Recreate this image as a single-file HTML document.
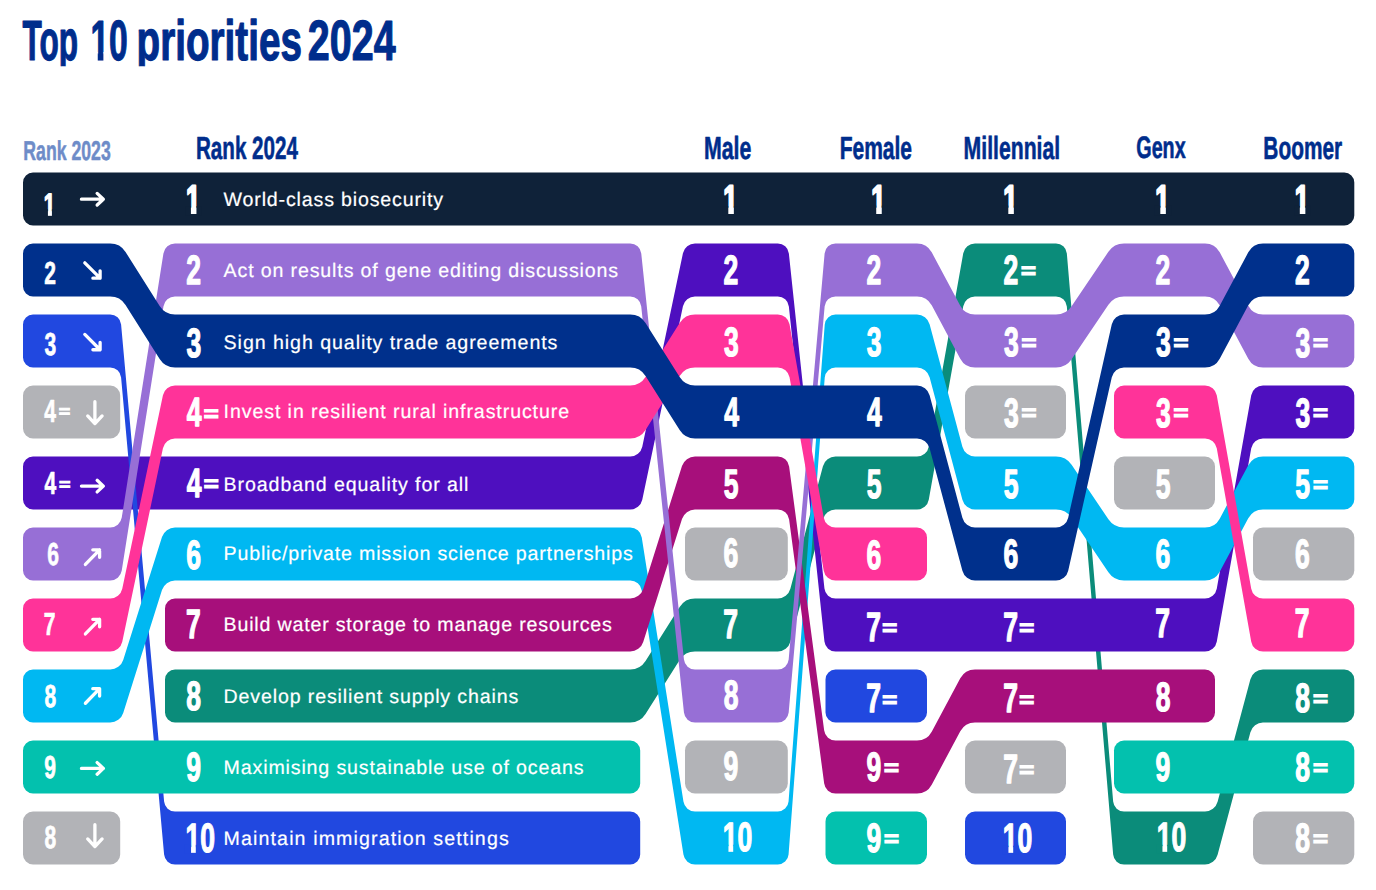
<!DOCTYPE html>
<html><head><meta charset="utf-8"><title>Top 10 priorities 2024</title>
<style>
html,body{margin:0;padding:0;background:#fff;width:1376px;height:890px;overflow:hidden}
svg{display:block}
text{text-rendering:geometricPrecision}
</style></head><body>
<svg width="1376" height="890" viewBox="0 0 1376 890">
<rect width="1376" height="890" fill="#fff"/>
<clipPath id="tc"><rect x="0" y="0" width="600" height="66.2"/></clipPath><g clip-path="url(#tc)">
<text transform="translate(22.58 60.3) scale(0.5573 1)" style="font-family:'Liberation Sans',sans-serif;font-weight:700;font-size:56.67px" fill="#002d8c" stroke="#002d8c" stroke-width="1.2" stroke-linejoin="round">Top</text>
<text transform="translate(90.41 60.3) scale(0.5935 1)" style="font-family:'Liberation Sans',sans-serif;font-weight:700;font-size:56.67px" fill="#002d8c" stroke="#002d8c" stroke-width="1.2" stroke-linejoin="round">10</text>
<rect x="89.91" y="52.12" width="7.84" height="9.88" fill="#fff"/>
<rect x="103.39" y="52.12" width="6.08" height="9.88" fill="#fff"/>
<text transform="translate(136.59 60.3) scale(0.6818 1)" style="font-family:'Liberation Sans',sans-serif;font-weight:700;font-size:56.67px" fill="#002d8c" stroke="#002d8c" stroke-width="1.2" stroke-linejoin="round">priorities</text>
<text transform="translate(307.82 60.3) scale(0.6962 1)" style="font-family:'Liberation Sans',sans-serif;font-weight:700;font-size:56.67px" fill="#002d8c" stroke="#002d8c" stroke-width="1.2" stroke-linejoin="round">2024</text>
</g>
<text transform="translate(23.3 159.85) scale(0.6484 1)" style="font-family:'Liberation Sans',sans-serif;font-weight:700;font-size:27.25px" fill="#6e8cc8" stroke="#6e8cc8" stroke-width="0.5" stroke-linejoin="round">Rank 2023</text>
<text transform="translate(195.96 158.7) scale(0.6436 1)" style="font-family:'Liberation Sans',sans-serif;font-weight:700;font-size:32.03px" fill="#002d8c" stroke="#002d8c" stroke-width="0.6" stroke-linejoin="round">Rank 2024</text>
<text transform="translate(703.91 158.7) scale(0.6657 1)" style="font-family:'Liberation Sans',sans-serif;font-weight:700;font-size:32.03px" fill="#002d8c" stroke="#002d8c" stroke-width="0.6" stroke-linejoin="round">Male</text>
<text transform="translate(839.63 158.7) scale(0.6562 1)" style="font-family:'Liberation Sans',sans-serif;font-weight:700;font-size:32.03px" fill="#002d8c" stroke="#002d8c" stroke-width="0.6" stroke-linejoin="round">Female</text>
<text transform="translate(963.62 158.7) scale(0.6619 1)" style="font-family:'Liberation Sans',sans-serif;font-weight:700;font-size:32.03px" fill="#002d8c" stroke="#002d8c" stroke-width="0.6" stroke-linejoin="round">Millennial</text>
<text transform="translate(1136.31 158.39) scale(0.6334 1)" style="font-family:'Liberation Sans',sans-serif;font-weight:700;font-size:31.13px" fill="#002d8c" stroke="#002d8c" stroke-width="0.6" stroke-linejoin="round">Genx</text>
<text transform="translate(1263.34 158.7) scale(0.6514 1)" style="font-family:'Liberation Sans',sans-serif;font-weight:700;font-size:32.03px" fill="#002d8c" stroke="#002d8c" stroke-width="0.6" stroke-linejoin="round">Boomer</text>
<path fill="#0b8c7a" d="M175 669.5L630.2 669.5A18.13 18.13 0 0 0 645.54 661.04L679.66 606.96A18.13 18.13 0 0 1 695 598.5L777.8 598.5A13 13 0 0 0 790.37 588.83L822.93 466.17A13 13 0 0 1 835.5 456.5L917 456.5A11.94 11.94 0 0 0 928.76 446.66L963.24 253.34A11.94 11.94 0 0 1 975 243.5L1056 243.5A10.88 10.88 0 0 1 1066.84 253.46L1113.16 801.54A10.88 10.88 0 0 0 1124 811.5L1205 811.5A13.03 13.03 0 0 0 1217.59 801.84L1250.41 679.16A13.03 13.03 0 0 1 1263 669.5L1344.3 669.5A10 10 0 0 1 1354.3 679.5L1354.3 712.5A10 10 0 0 1 1344.3 722.5L1263 722.5A13.03 13.03 0 0 0 1250.41 732.16L1217.59 854.84A13.03 13.03 0 0 1 1205 864.5L1124 864.5A10.88 10.88 0 0 1 1113.16 854.54L1066.84 306.46A10.88 10.88 0 0 0 1056 296.5L975 296.5A11.94 11.94 0 0 0 963.24 306.34L928.76 499.66A11.94 11.94 0 0 1 917 509.5L835.5 509.5A13 13 0 0 0 822.93 519.17L790.37 641.83A13 13 0 0 1 777.8 651.5L695 651.5A18.13 18.13 0 0 0 679.66 659.96L645.54 714.04A18.13 18.13 0 0 1 630.2 722.5L175 722.5A10 10 0 0 1 165 712.5L165 679.5A10 10 0 0 1 175 669.5Z"/>
<path fill="#4e0fbf" d="M33 456.5L630.2 456.5A12.32 12.32 0 0 0 642.26 446.71L682.94 253.29A12.32 12.32 0 0 1 695 243.5L777.8 243.5A11.12 11.12 0 0 1 788.86 253.44L824.44 588.56A11.12 11.12 0 0 0 835.5 598.5L1205 598.5A11.94 11.94 0 0 0 1216.76 588.66L1251.24 395.34A11.94 11.94 0 0 1 1263 385.5L1344.3 385.5A10 10 0 0 1 1354.3 395.5L1354.3 428.5A10 10 0 0 1 1344.3 438.5L1263 438.5A11.94 11.94 0 0 0 1251.24 448.34L1216.76 641.66A11.94 11.94 0 0 1 1205 651.5L835.5 651.5A11.12 11.12 0 0 1 824.44 641.56L788.86 306.44A11.12 11.12 0 0 0 777.8 296.5L695 296.5A12.32 12.32 0 0 0 682.94 306.29L642.26 499.71A12.32 12.32 0 0 1 630.2 509.5L33 509.5A10 10 0 0 1 23 499.5L23 466.5A10 10 0 0 1 33 456.5Z"/>
<path fill="#2148e0" d="M33 314.5L110.2 314.5A10.94 10.94 0 0 1 121.1 324.46L164.1 801.54A10.94 10.94 0 0 0 175 811.5L630.2 811.5A10 10 0 0 1 640.2 821.5L640.2 854.5A10 10 0 0 1 630.2 864.5L175 864.5A10.94 10.94 0 0 1 164.1 854.54L121.1 377.46A10.94 10.94 0 0 0 110.2 367.5L33 367.5A10 10 0 0 1 23 357.5L23 324.5A10 10 0 0 1 33 314.5Z"/>
<path fill="#2148e0" d="M835.5 669.5L917 669.5A10 10 0 0 1 927 679.5L927 712.5A10 10 0 0 1 917 722.5L835.5 722.5A10 10 0 0 1 825.5 712.5L825.5 679.5A10 10 0 0 1 835.5 669.5Z"/>
<path fill="#2148e0" d="M975 811.5L1056 811.5A10 10 0 0 1 1066 821.5L1066 854.5A10 10 0 0 1 1056 864.5L975 864.5A10 10 0 0 1 965 854.5L965 821.5A10 10 0 0 1 975 811.5Z"/>
<path fill="#00b8f2" d="M33 669.5L110.2 669.5A13.64 13.64 0 0 0 123.21 659.96L161.99 537.04A13.64 13.64 0 0 1 175 527.5L630.2 527.5A11.7 11.7 0 0 1 641.76 537.38L683.44 801.62A11.7 11.7 0 0 0 695 811.5L777.8 811.5A10.79 10.79 0 0 0 788.56 801.53L824.74 324.47A10.79 10.79 0 0 1 835.5 314.5L917 314.5A13.03 13.03 0 0 1 929.59 324.16L962.41 446.84A13.03 13.03 0 0 0 975 456.5L1056 456.5A18.83 18.83 0 0 1 1071.6 464.78L1108.4 519.22A18.83 18.83 0 0 0 1124 527.5L1205 527.5A16.69 16.69 0 0 0 1219.72 518.68L1248.28 465.32A16.69 16.69 0 0 1 1263 456.5L1344.3 456.5A10 10 0 0 1 1354.3 466.5L1354.3 499.5A10 10 0 0 1 1344.3 509.5L1263 509.5A16.69 16.69 0 0 0 1248.28 518.32L1219.72 571.68A16.69 16.69 0 0 1 1205 580.5L1124 580.5A18.83 18.83 0 0 1 1108.4 572.22L1071.6 517.78A18.83 18.83 0 0 0 1056 509.5L975 509.5A13.03 13.03 0 0 1 962.41 499.84L929.59 377.16A13.03 13.03 0 0 0 917 367.5L835.5 367.5A10.79 10.79 0 0 0 824.74 377.47L788.56 854.53A10.79 10.79 0 0 1 777.8 864.5L695 864.5A11.7 11.7 0 0 1 683.44 854.62L641.76 590.38A11.7 11.7 0 0 0 630.2 580.5L175 580.5A13.64 13.64 0 0 0 161.99 590.04L123.21 712.96A13.64 13.64 0 0 1 110.2 722.5L33 722.5A10 10 0 0 1 23 712.5L23 679.5A10 10 0 0 1 33 669.5Z"/>
<path fill="#03c1ae" d="M33 740.5L630.2 740.5A10 10 0 0 1 640.2 750.5L640.2 783.5A10 10 0 0 1 630.2 793.5L33 793.5A10 10 0 0 1 23 783.5L23 750.5A10 10 0 0 1 33 740.5Z"/>
<path fill="#03c1ae" d="M835.5 811.5L917 811.5A10 10 0 0 1 927 821.5L927 854.5A10 10 0 0 1 917 864.5L835.5 864.5A10 10 0 0 1 825.5 854.5L825.5 821.5A10 10 0 0 1 835.5 811.5Z"/>
<path fill="#03c1ae" d="M1124 740.5L1344.3 740.5A10 10 0 0 1 1354.3 750.5L1354.3 783.5A10 10 0 0 1 1344.3 793.5L1124 793.5A10 10 0 0 1 1114 783.5L1114 750.5A10 10 0 0 1 1124 740.5Z"/>
<path fill="#a70f7b" d="M175 598.5L630.2 598.5A13.64 13.64 0 0 0 643.21 588.96L681.99 466.04A13.64 13.64 0 0 1 695 456.5L777.8 456.5A11.42 11.42 0 0 1 789.12 466.41L824.18 730.59A11.42 11.42 0 0 0 835.5 740.5L917 740.5A16.69 16.69 0 0 0 931.72 731.68L960.28 678.32A16.69 16.69 0 0 1 975 669.5L1205 669.5A10 10 0 0 1 1215 679.5L1215 712.5A10 10 0 0 1 1205 722.5L975 722.5A16.69 16.69 0 0 0 960.28 731.32L931.72 784.68A16.69 16.69 0 0 1 917 793.5L835.5 793.5A11.42 11.42 0 0 1 824.18 783.59L789.12 519.41A11.42 11.42 0 0 0 777.8 509.5L695 509.5A13.64 13.64 0 0 0 681.99 519.04L643.21 641.96A13.64 13.64 0 0 1 630.2 651.5L175 651.5A10 10 0 0 1 165 641.5L165 608.5A10 10 0 0 1 175 598.5Z"/>
<path fill="#976fd6" d="M33 527.5L110.2 527.5A11.7 11.7 0 0 0 121.76 517.62L163.44 253.38A11.7 11.7 0 0 1 175 243.5L630.2 243.5A11.11 11.11 0 0 1 641.25 253.45L683.95 659.55A11.11 11.11 0 0 0 695 669.5L777.8 669.5A10.92 10.92 0 0 0 788.68 659.54L824.62 253.46A10.92 10.92 0 0 1 835.5 243.5L917 243.5A16.69 16.69 0 0 1 931.72 252.32L960.28 305.68A16.69 16.69 0 0 0 975 314.5L1056 314.5A18.83 18.83 0 0 0 1071.6 306.22L1108.4 251.78A18.83 18.83 0 0 1 1124 243.5L1205 243.5A16.69 16.69 0 0 1 1219.72 252.32L1248.28 305.68A16.69 16.69 0 0 0 1263 314.5L1344.3 314.5A10 10 0 0 1 1354.3 324.5L1354.3 357.5A10 10 0 0 1 1344.3 367.5L1263 367.5A16.69 16.69 0 0 1 1248.28 358.68L1219.72 305.32A16.69 16.69 0 0 0 1205 296.5L1124 296.5A18.83 18.83 0 0 0 1108.4 304.78L1071.6 359.22A18.83 18.83 0 0 1 1056 367.5L975 367.5A16.69 16.69 0 0 1 960.28 358.68L931.72 305.32A16.69 16.69 0 0 0 917 296.5L835.5 296.5A10.92 10.92 0 0 0 824.62 306.46L788.68 712.54A10.92 10.92 0 0 1 777.8 722.5L695 722.5A11.11 11.11 0 0 1 683.95 712.55L641.25 306.45A11.11 11.11 0 0 0 630.2 296.5L175 296.5A11.7 11.7 0 0 0 163.44 306.38L121.76 570.62A11.7 11.7 0 0 1 110.2 580.5L33 580.5A10 10 0 0 1 23 570.5L23 537.5A10 10 0 0 1 33 527.5Z"/>
<path fill="#ff3399" d="M33 598.5L110.2 598.5A12.32 12.32 0 0 0 122.26 588.71L162.94 395.29A12.32 12.32 0 0 1 175 385.5L630.2 385.5A18.13 18.13 0 0 0 645.54 377.04L679.66 322.96A18.13 18.13 0 0 1 695 314.5L777.8 314.5A11.93 11.93 0 0 1 789.54 324.35L823.76 517.65A11.93 11.93 0 0 0 835.5 527.5L917 527.5A10 10 0 0 1 927 537.5L927 570.5A10 10 0 0 1 917 580.5L835.5 580.5A11.93 11.93 0 0 1 823.76 570.65L789.54 377.35A11.93 11.93 0 0 0 777.8 367.5L695 367.5A18.13 18.13 0 0 0 679.66 375.96L645.54 430.04A18.13 18.13 0 0 1 630.2 438.5L175 438.5A12.32 12.32 0 0 0 162.94 448.29L122.26 641.71A12.32 12.32 0 0 1 110.2 651.5L33 651.5A10 10 0 0 1 23 641.5L23 608.5A10 10 0 0 1 33 598.5Z"/>
<path fill="#ff3399" d="M1124 385.5L1205 385.5A11.94 11.94 0 0 1 1216.76 395.34L1251.24 588.66A11.94 11.94 0 0 0 1263 598.5L1344.3 598.5A10 10 0 0 1 1354.3 608.5L1354.3 641.5A10 10 0 0 1 1344.3 651.5L1263 651.5A11.94 11.94 0 0 1 1251.24 641.66L1216.76 448.34A11.94 11.94 0 0 0 1205 438.5L1124 438.5A10 10 0 0 1 1114 428.5L1114 395.5A10 10 0 0 1 1124 385.5Z"/>
<path fill="#00308c" d="M33 243.5L110.2 243.5A18.13 18.13 0 0 1 125.54 251.96L159.66 306.04A18.13 18.13 0 0 0 175 314.5L630.2 314.5A18.13 18.13 0 0 1 645.54 322.96L679.66 377.04A18.13 18.13 0 0 0 695 385.5L917 385.5A13.03 13.03 0 0 1 929.59 395.16L962.41 517.84A13.03 13.03 0 0 0 975 527.5L1056 527.5A12.5 12.5 0 0 0 1068.2 517.74L1111.8 324.26A12.5 12.5 0 0 1 1124 314.5L1205 314.5A16.69 16.69 0 0 0 1219.72 305.68L1248.28 252.32A16.69 16.69 0 0 1 1263 243.5L1344.3 243.5A10 10 0 0 1 1354.3 253.5L1354.3 286.5A10 10 0 0 1 1344.3 296.5L1263 296.5A16.69 16.69 0 0 0 1248.28 305.32L1219.72 358.68A16.69 16.69 0 0 1 1205 367.5L1124 367.5A12.5 12.5 0 0 0 1111.8 377.26L1068.2 570.74A12.5 12.5 0 0 1 1056 580.5L975 580.5A13.03 13.03 0 0 1 962.41 570.84L929.59 448.16A13.03 13.03 0 0 0 917 438.5L695 438.5A18.13 18.13 0 0 1 679.66 430.04L645.54 375.96A18.13 18.13 0 0 0 630.2 367.5L175 367.5A18.13 18.13 0 0 1 159.66 359.04L125.54 304.96A18.13 18.13 0 0 0 110.2 296.5L33 296.5A10 10 0 0 1 23 286.5L23 253.5A10 10 0 0 1 33 243.5Z"/>
<path fill="#0f2239" d="M33 172.5L1344.3 172.5A10 10 0 0 1 1354.3 182.5L1354.3 215.5A10 10 0 0 1 1344.3 225.5L33 225.5A10 10 0 0 1 23 215.5L23 182.5A10 10 0 0 1 33 172.5Z"/>
<path fill="#b2b3b7" d="M33 385.5L110.2 385.5A10 10 0 0 1 120.2 395.5L120.2 428.5A10 10 0 0 1 110.2 438.5L33 438.5A10 10 0 0 1 23 428.5L23 395.5A10 10 0 0 1 33 385.5Z"/>
<path fill="#b2b3b7" d="M33 811.5L110.2 811.5A10 10 0 0 1 120.2 821.5L120.2 854.5A10 10 0 0 1 110.2 864.5L33 864.5A10 10 0 0 1 23 854.5L23 821.5A10 10 0 0 1 33 811.5Z"/>
<path fill="#b2b3b7" d="M695 527.5L777.8 527.5A10 10 0 0 1 787.8 537.5L787.8 570.5A10 10 0 0 1 777.8 580.5L695 580.5A10 10 0 0 1 685 570.5L685 537.5A10 10 0 0 1 695 527.5Z"/>
<path fill="#b2b3b7" d="M695 740.5L777.8 740.5A10 10 0 0 1 787.8 750.5L787.8 783.5A10 10 0 0 1 777.8 793.5L695 793.5A10 10 0 0 1 685 783.5L685 750.5A10 10 0 0 1 695 740.5Z"/>
<path fill="#b2b3b7" d="M975 385.5L1056 385.5A10 10 0 0 1 1066 395.5L1066 428.5A10 10 0 0 1 1056 438.5L975 438.5A10 10 0 0 1 965 428.5L965 395.5A10 10 0 0 1 975 385.5Z"/>
<path fill="#b2b3b7" d="M975 740.5L1056 740.5A10 10 0 0 1 1066 750.5L1066 783.5A10 10 0 0 1 1056 793.5L975 793.5A10 10 0 0 1 965 783.5L965 750.5A10 10 0 0 1 975 740.5Z"/>
<path fill="#b2b3b7" d="M1124 456.5L1205 456.5A10 10 0 0 1 1215 466.5L1215 499.5A10 10 0 0 1 1205 509.5L1124 509.5A10 10 0 0 1 1114 499.5L1114 466.5A10 10 0 0 1 1124 456.5Z"/>
<path fill="#b2b3b7" d="M1263 527.5L1344.3 527.5A10 10 0 0 1 1354.3 537.5L1354.3 570.5A10 10 0 0 1 1344.3 580.5L1263 580.5A10 10 0 0 1 1253 570.5L1253 537.5A10 10 0 0 1 1263 527.5Z"/>
<path fill="#b2b3b7" d="M1263 811.5L1344.3 811.5A10 10 0 0 1 1354.3 821.5L1354.3 854.5A10 10 0 0 1 1344.3 864.5L1263 864.5A10 10 0 0 1 1253 854.5L1253 821.5A10 10 0 0 1 1263 811.5Z"/>
<text transform="translate(43.77 214.88) scale(0.6600 1)" style="font-family:'Liberation Sans',sans-serif;font-weight:700;font-size:30.87px" fill="#fff" stroke="#fff" stroke-width="1.39" stroke-linejoin="round">1</text>
<rect x="43.27" y="209.23" width="4.65" height="7.44" fill="#0f2239"/>
<rect x="51.92" y="209.23" width="4.5" height="7.44" fill="#0f2239"/>
<path d="M81.45 199.2H103.35 M97.15 193.4L103.35 199.2L97.15 205" fill="none" stroke="#fff" stroke-width="3.3" stroke-linecap="round" stroke-linejoin="round"/>
<text transform="translate(44.21 283.65) scale(0.6600 1)" style="font-family:'Liberation Sans',sans-serif;font-weight:700;font-size:31.86px" fill="#fff" stroke="#fff" stroke-width="0.7" stroke-linejoin="round">2</text>
<path d="M84.8 262.85L100.1 278.15 M92.9 278.15H100.1 V270.85" fill="none" stroke="#fff" stroke-width="3.3" stroke-linecap="round" stroke-linejoin="round"/>
<text transform="translate(44.52 354.85) scale(0.6600 1)" style="font-family:'Liberation Sans',sans-serif;font-weight:700;font-size:31.86px" fill="#fff" stroke="#fff" stroke-width="0.7" stroke-linejoin="round">3</text>
<path d="M84.8 334.45L100.1 349.75 M92.9 349.75H100.1 V342.45" fill="none" stroke="#fff" stroke-width="3.3" stroke-linecap="round" stroke-linejoin="round"/>
<text transform="translate(44.33 421.62) scale(0.6600 1)" style="font-family:'Liberation Sans',sans-serif;font-weight:700;font-size:31.86px" fill="#fff" stroke="#fff" stroke-width="0.7" stroke-linejoin="round">4</text>
<text transform="translate(58.84 417.09) scale(1.1605 1)" style="font-family:'Liberation Sans',sans-serif;font-weight:700;font-size:16.88px" fill="#fff" stroke="#fff" stroke-width="1">=</text>
<path d="M94.9 401.75V423.55 M87.7 415.95L94.9 423.55L102.1 415.95" fill="none" stroke="#fff" stroke-width="3.3" stroke-linecap="round" stroke-linejoin="round"/>
<text transform="translate(44.43 494.42) scale(0.6600 1)" style="font-family:'Liberation Sans',sans-serif;font-weight:700;font-size:31.86px" fill="#fff" stroke="#fff" stroke-width="0.7" stroke-linejoin="round">4</text>
<text transform="translate(58.94 489.89) scale(1.1605 1)" style="font-family:'Liberation Sans',sans-serif;font-weight:700;font-size:16.88px" fill="#fff" stroke="#fff" stroke-width="1">=</text>
<path d="M81.45 486.1H103.35 M97.15 480.3L103.35 486.1L97.15 491.9" fill="none" stroke="#fff" stroke-width="3.3" stroke-linecap="round" stroke-linejoin="round"/>
<text transform="translate(47.31 564.55) scale(0.6600 1)" style="font-family:'Liberation Sans',sans-serif;font-weight:700;font-size:31.86px" fill="#fff" stroke="#fff" stroke-width="0.7" stroke-linejoin="round">6</text>
<path d="M85.4 564.45L99.6 549.85 M92.8 549.85H99.6 V557.25" fill="none" stroke="#fff" stroke-width="3.3" stroke-linecap="round" stroke-linejoin="round"/>
<text transform="translate(43.8 634.72) scale(0.6600 1)" style="font-family:'Liberation Sans',sans-serif;font-weight:700;font-size:31.86px" fill="#fff" stroke="#fff" stroke-width="0.7" stroke-linejoin="round">7</text>
<path d="M85.4 633.95L99.6 619.35 M92.8 619.35H99.6 V626.75" fill="none" stroke="#fff" stroke-width="3.3" stroke-linecap="round" stroke-linejoin="round"/>
<text transform="translate(44.52 706.85) scale(0.6600 1)" style="font-family:'Liberation Sans',sans-serif;font-weight:700;font-size:31.86px" fill="#fff" stroke="#fff" stroke-width="0.7" stroke-linejoin="round">8</text>
<path d="M85.4 703.25L99.6 688.65 M92.8 688.65H99.6 V696.05" fill="none" stroke="#fff" stroke-width="3.3" stroke-linecap="round" stroke-linejoin="round"/>
<text transform="translate(44.31 777.85) scale(0.6600 1)" style="font-family:'Liberation Sans',sans-serif;font-weight:700;font-size:31.86px" fill="#fff" stroke="#fff" stroke-width="0.7" stroke-linejoin="round">9</text>
<path d="M81.45 768.4H103.35 M97.15 762.6L103.35 768.4L97.15 774.2" fill="none" stroke="#fff" stroke-width="3.3" stroke-linecap="round" stroke-linejoin="round"/>
<text transform="translate(44.52 847.95) scale(0.6600 1)" style="font-family:'Liberation Sans',sans-serif;font-weight:700;font-size:31.86px" fill="#fff" stroke="#fff" stroke-width="0.7" stroke-linejoin="round">8</text>
<path d="M94.9 824.75V846.55 M87.7 838.95L94.9 846.55L102.1 838.95" fill="none" stroke="#fff" stroke-width="3.3" stroke-linecap="round" stroke-linejoin="round"/>
<text transform="translate(185.93 213.17) scale(0.6460 1)" style="font-family:'Liberation Sans',sans-serif;font-weight:700;font-size:39.71px" fill="#fff" stroke="#fff" stroke-width="2.2" stroke-linejoin="round">1</text>
<rect x="185.43" y="206.22" width="5.48" height="9.15" fill="#0f2239"/>
<rect x="196.45" y="206.22" width="5.33" height="9.15" fill="#0f2239"/>
<text transform="translate(186.22 284.45) scale(0.6460 1)" style="font-family:'Liberation Sans',sans-serif;font-weight:700;font-size:41px" fill="#fff" stroke="#fff" stroke-width="1.3" stroke-linejoin="round">2</text>
<text transform="translate(186.49 356.55) scale(0.6460 1)" style="font-family:'Liberation Sans',sans-serif;font-weight:700;font-size:41px" fill="#fff" stroke="#fff" stroke-width="1.3" stroke-linejoin="round">3</text>
<text transform="translate(186.75 426.32) scale(0.6460 1)" style="font-family:'Liberation Sans',sans-serif;font-weight:700;font-size:41px" fill="#fff" stroke="#fff" stroke-width="1.3" stroke-linejoin="round">4</text>
<text transform="translate(203.87 420.6) scale(1.1605 1)" style="font-family:'Liberation Sans',sans-serif;font-weight:700;font-size:22.02px" fill="#fff" stroke="#fff" stroke-width="1.3">=</text>
<text transform="translate(186.75 496.72) scale(0.6460 1)" style="font-family:'Liberation Sans',sans-serif;font-weight:700;font-size:41px" fill="#fff" stroke="#fff" stroke-width="1.3" stroke-linejoin="round">4</text>
<text transform="translate(203.87 491) scale(1.1605 1)" style="font-family:'Liberation Sans',sans-serif;font-weight:700;font-size:22.02px" fill="#fff" stroke="#fff" stroke-width="1.3">=</text>
<text transform="translate(186.22 568.55) scale(0.6460 1)" style="font-family:'Liberation Sans',sans-serif;font-weight:700;font-size:41px" fill="#fff" stroke="#fff" stroke-width="1.3" stroke-linejoin="round">6</text>
<text transform="translate(185.96 638.32) scale(0.6460 1)" style="font-family:'Liberation Sans',sans-serif;font-weight:700;font-size:41px" fill="#fff" stroke="#fff" stroke-width="1.3" stroke-linejoin="round">7</text>
<text transform="translate(186.36 709.55) scale(0.6460 1)" style="font-family:'Liberation Sans',sans-serif;font-weight:700;font-size:41px" fill="#fff" stroke="#fff" stroke-width="1.3" stroke-linejoin="round">8</text>
<text transform="translate(186.22 781.05) scale(0.6460 1)" style="font-family:'Liberation Sans',sans-serif;font-weight:700;font-size:41px" fill="#fff" stroke="#fff" stroke-width="1.3" stroke-linejoin="round">9</text>
<text transform="translate(185.43 851.52) scale(0.6460 1)" style="font-family:'Liberation Sans',sans-serif;font-weight:700;font-size:41px" fill="#fff" stroke="#fff" stroke-width="1.3" stroke-linejoin="round">10</text>
<rect x="184.93" y="844.89" width="6.12" height="8.38" fill="#2148e0"/>
<rect x="195.8" y="844.89" width="5.46" height="8.38" fill="#2148e0"/>
<text transform="translate(723.33 213.17) scale(0.6460 1)" style="font-family:'Liberation Sans',sans-serif;font-weight:700;font-size:39.71px" fill="#fff" stroke="#fff" stroke-width="2.2" stroke-linejoin="round">1</text>
<rect x="722.83" y="206.22" width="5.48" height="9.15" fill="#0f2239"/>
<rect x="733.85" y="206.22" width="5.33" height="9.15" fill="#0f2239"/>
<text transform="translate(723.62 284.35) scale(0.6460 1)" style="font-family:'Liberation Sans',sans-serif;font-weight:700;font-size:41px" fill="#fff" stroke="#fff" stroke-width="1.3" stroke-linejoin="round">2</text>
<text transform="translate(723.89 356.45) scale(0.6460 1)" style="font-family:'Liberation Sans',sans-serif;font-weight:700;font-size:41px" fill="#fff" stroke="#fff" stroke-width="1.3" stroke-linejoin="round">3</text>
<text transform="translate(724.15 426.12) scale(0.6460 1)" style="font-family:'Liberation Sans',sans-serif;font-weight:700;font-size:41px" fill="#fff" stroke="#fff" stroke-width="1.3" stroke-linejoin="round">4</text>
<text transform="translate(723.76 497.82) scale(0.6460 1)" style="font-family:'Liberation Sans',sans-serif;font-weight:700;font-size:41px" fill="#fff" stroke="#fff" stroke-width="1.3" stroke-linejoin="round">5</text>
<text transform="translate(723.62 567.45) scale(0.6460 1)" style="font-family:'Liberation Sans',sans-serif;font-weight:700;font-size:41px" fill="#fff" stroke="#fff" stroke-width="1.3" stroke-linejoin="round">6</text>
<text transform="translate(723.36 637.52) scale(0.6460 1)" style="font-family:'Liberation Sans',sans-serif;font-weight:700;font-size:41px" fill="#fff" stroke="#fff" stroke-width="1.3" stroke-linejoin="round">7</text>
<text transform="translate(723.76 709.45) scale(0.6460 1)" style="font-family:'Liberation Sans',sans-serif;font-weight:700;font-size:41px" fill="#fff" stroke="#fff" stroke-width="1.3" stroke-linejoin="round">8</text>
<text transform="translate(723.62 780.45) scale(0.6460 1)" style="font-family:'Liberation Sans',sans-serif;font-weight:700;font-size:41px" fill="#fff" stroke="#fff" stroke-width="1.3" stroke-linejoin="round">9</text>
<text transform="translate(722.83 851.32) scale(0.6460 1)" style="font-family:'Liberation Sans',sans-serif;font-weight:700;font-size:41px" fill="#fff" stroke="#fff" stroke-width="1.3" stroke-linejoin="round">10</text>
<rect x="722.33" y="844.69" width="6.12" height="8.38" fill="#00b8f2"/>
<rect x="733.2" y="844.69" width="5.46" height="8.38" fill="#00b8f2"/>
<text transform="translate(871.23 212.57) scale(0.6460 1)" style="font-family:'Liberation Sans',sans-serif;font-weight:700;font-size:39.71px" fill="#fff" stroke="#fff" stroke-width="2.2" stroke-linejoin="round">1</text>
<rect x="870.73" y="205.62" width="5.48" height="9.15" fill="#0f2239"/>
<rect x="881.75" y="205.62" width="5.33" height="9.15" fill="#0f2239"/>
<text transform="translate(866.52 284.35) scale(0.6460 1)" style="font-family:'Liberation Sans',sans-serif;font-weight:700;font-size:41px" fill="#fff" stroke="#fff" stroke-width="1.3" stroke-linejoin="round">2</text>
<text transform="translate(866.79 356.45) scale(0.6460 1)" style="font-family:'Liberation Sans',sans-serif;font-weight:700;font-size:41px" fill="#fff" stroke="#fff" stroke-width="1.3" stroke-linejoin="round">3</text>
<text transform="translate(867.05 425.92) scale(0.6460 1)" style="font-family:'Liberation Sans',sans-serif;font-weight:700;font-size:41px" fill="#fff" stroke="#fff" stroke-width="1.3" stroke-linejoin="round">4</text>
<text transform="translate(866.66 498.32) scale(0.6460 1)" style="font-family:'Liberation Sans',sans-serif;font-weight:700;font-size:41px" fill="#fff" stroke="#fff" stroke-width="1.3" stroke-linejoin="round">5</text>
<text transform="translate(866.52 568.85) scale(0.6460 1)" style="font-family:'Liberation Sans',sans-serif;font-weight:700;font-size:41px" fill="#fff" stroke="#fff" stroke-width="1.3" stroke-linejoin="round">6</text>
<text transform="translate(866.26 640.52) scale(0.6460 1)" style="font-family:'Liberation Sans',sans-serif;font-weight:700;font-size:41px" fill="#fff" stroke="#fff" stroke-width="1.3" stroke-linejoin="round">7</text>
<text transform="translate(882.22 634.8) scale(1.1605 1)" style="font-family:'Liberation Sans',sans-serif;font-weight:700;font-size:22.02px" fill="#fff" stroke="#fff" stroke-width="1.3">=</text>
<text transform="translate(866.26 712.42) scale(0.6460 1)" style="font-family:'Liberation Sans',sans-serif;font-weight:700;font-size:41px" fill="#fff" stroke="#fff" stroke-width="1.3" stroke-linejoin="round">7</text>
<text transform="translate(882.22 706.7) scale(1.1605 1)" style="font-family:'Liberation Sans',sans-serif;font-weight:700;font-size:22.02px" fill="#fff" stroke="#fff" stroke-width="1.3">=</text>
<text transform="translate(866.52 780.75) scale(0.6460 1)" style="font-family:'Liberation Sans',sans-serif;font-weight:700;font-size:41px" fill="#fff" stroke="#fff" stroke-width="1.3" stroke-linejoin="round">9</text>
<text transform="translate(884.05 774.6) scale(1.1605 1)" style="font-family:'Liberation Sans',sans-serif;font-weight:700;font-size:22.02px" fill="#fff" stroke="#fff" stroke-width="1.3">=</text>
<text transform="translate(866.52 851.85) scale(0.6460 1)" style="font-family:'Liberation Sans',sans-serif;font-weight:700;font-size:41px" fill="#fff" stroke="#fff" stroke-width="1.3" stroke-linejoin="round">9</text>
<text transform="translate(884.05 845.7) scale(1.1605 1)" style="font-family:'Liberation Sans',sans-serif;font-weight:700;font-size:22.02px" fill="#fff" stroke="#fff" stroke-width="1.3">=</text>
<text transform="translate(1003.33 212.57) scale(0.6460 1)" style="font-family:'Liberation Sans',sans-serif;font-weight:700;font-size:39.71px" fill="#fff" stroke="#fff" stroke-width="2.2" stroke-linejoin="round">1</text>
<rect x="1002.83" y="205.62" width="5.48" height="9.15" fill="#0f2239"/>
<rect x="1013.85" y="205.62" width="5.33" height="9.15" fill="#0f2239"/>
<text transform="translate(1003.62 284.35) scale(0.6460 1)" style="font-family:'Liberation Sans',sans-serif;font-weight:700;font-size:41px" fill="#fff" stroke="#fff" stroke-width="1.3" stroke-linejoin="round">2</text>
<text transform="translate(1021.02 278.2) scale(1.1605 1)" style="font-family:'Liberation Sans',sans-serif;font-weight:700;font-size:22.02px" fill="#fff" stroke="#fff" stroke-width="1.3">=</text>
<text transform="translate(1003.89 356.35) scale(0.6460 1)" style="font-family:'Liberation Sans',sans-serif;font-weight:700;font-size:41px" fill="#fff" stroke="#fff" stroke-width="1.3" stroke-linejoin="round">3</text>
<text transform="translate(1021.41 350.2) scale(1.1605 1)" style="font-family:'Liberation Sans',sans-serif;font-weight:700;font-size:22.02px" fill="#fff" stroke="#fff" stroke-width="1.3">=</text>
<text transform="translate(1003.89 426.55) scale(0.6460 1)" style="font-family:'Liberation Sans',sans-serif;font-weight:700;font-size:41px" fill="#fff" stroke="#fff" stroke-width="1.3" stroke-linejoin="round">3</text>
<text transform="translate(1021.41 420.4) scale(1.1605 1)" style="font-family:'Liberation Sans',sans-serif;font-weight:700;font-size:22.02px" fill="#fff" stroke="#fff" stroke-width="1.3">=</text>
<text transform="translate(1003.76 497.82) scale(0.6460 1)" style="font-family:'Liberation Sans',sans-serif;font-weight:700;font-size:41px" fill="#fff" stroke="#fff" stroke-width="1.3" stroke-linejoin="round">5</text>
<text transform="translate(1003.62 568.25) scale(0.6460 1)" style="font-family:'Liberation Sans',sans-serif;font-weight:700;font-size:41px" fill="#fff" stroke="#fff" stroke-width="1.3" stroke-linejoin="round">6</text>
<text transform="translate(1003.36 640.52) scale(0.6460 1)" style="font-family:'Liberation Sans',sans-serif;font-weight:700;font-size:41px" fill="#fff" stroke="#fff" stroke-width="1.3" stroke-linejoin="round">7</text>
<text transform="translate(1019.32 634.8) scale(1.1605 1)" style="font-family:'Liberation Sans',sans-serif;font-weight:700;font-size:22.02px" fill="#fff" stroke="#fff" stroke-width="1.3">=</text>
<text transform="translate(1003.36 712.42) scale(0.6460 1)" style="font-family:'Liberation Sans',sans-serif;font-weight:700;font-size:41px" fill="#fff" stroke="#fff" stroke-width="1.3" stroke-linejoin="round">7</text>
<text transform="translate(1019.32 706.7) scale(1.1605 1)" style="font-family:'Liberation Sans',sans-serif;font-weight:700;font-size:22.02px" fill="#fff" stroke="#fff" stroke-width="1.3">=</text>
<text transform="translate(1003.36 782.52) scale(0.6460 1)" style="font-family:'Liberation Sans',sans-serif;font-weight:700;font-size:41px" fill="#fff" stroke="#fff" stroke-width="1.3" stroke-linejoin="round">7</text>
<text transform="translate(1019.32 776.8) scale(1.1605 1)" style="font-family:'Liberation Sans',sans-serif;font-weight:700;font-size:22.02px" fill="#fff" stroke="#fff" stroke-width="1.3">=</text>
<text transform="translate(1002.83 852.32) scale(0.6460 1)" style="font-family:'Liberation Sans',sans-serif;font-weight:700;font-size:41px" fill="#fff" stroke="#fff" stroke-width="1.3" stroke-linejoin="round">10</text>
<rect x="1002.33" y="845.69" width="6.12" height="8.38" fill="#2148e0"/>
<rect x="1013.2" y="845.69" width="5.46" height="8.38" fill="#2148e0"/>
<text transform="translate(1155.33 212.87) scale(0.6460 1)" style="font-family:'Liberation Sans',sans-serif;font-weight:700;font-size:39.71px" fill="#fff" stroke="#fff" stroke-width="2.2" stroke-linejoin="round">1</text>
<rect x="1154.83" y="205.92" width="5.48" height="9.15" fill="#0f2239"/>
<rect x="1165.85" y="205.92" width="5.33" height="9.15" fill="#0f2239"/>
<text transform="translate(1155.62 284.35) scale(0.6460 1)" style="font-family:'Liberation Sans',sans-serif;font-weight:700;font-size:41px" fill="#fff" stroke="#fff" stroke-width="1.3" stroke-linejoin="round">2</text>
<text transform="translate(1155.89 356.45) scale(0.6460 1)" style="font-family:'Liberation Sans',sans-serif;font-weight:700;font-size:41px" fill="#fff" stroke="#fff" stroke-width="1.3" stroke-linejoin="round">3</text>
<text transform="translate(1173.41 350.3) scale(1.1605 1)" style="font-family:'Liberation Sans',sans-serif;font-weight:700;font-size:22.02px" fill="#fff" stroke="#fff" stroke-width="1.3">=</text>
<text transform="translate(1155.89 426.55) scale(0.6460 1)" style="font-family:'Liberation Sans',sans-serif;font-weight:700;font-size:41px" fill="#fff" stroke="#fff" stroke-width="1.3" stroke-linejoin="round">3</text>
<text transform="translate(1173.41 420.4) scale(1.1605 1)" style="font-family:'Liberation Sans',sans-serif;font-weight:700;font-size:22.02px" fill="#fff" stroke="#fff" stroke-width="1.3">=</text>
<text transform="translate(1155.76 497.82) scale(0.6460 1)" style="font-family:'Liberation Sans',sans-serif;font-weight:700;font-size:41px" fill="#fff" stroke="#fff" stroke-width="1.3" stroke-linejoin="round">5</text>
<text transform="translate(1155.62 568.25) scale(0.6460 1)" style="font-family:'Liberation Sans',sans-serif;font-weight:700;font-size:41px" fill="#fff" stroke="#fff" stroke-width="1.3" stroke-linejoin="round">6</text>
<text transform="translate(1155.36 636.82) scale(0.6460 1)" style="font-family:'Liberation Sans',sans-serif;font-weight:700;font-size:41px" fill="#fff" stroke="#fff" stroke-width="1.3" stroke-linejoin="round">7</text>
<text transform="translate(1155.76 710.65) scale(0.6460 1)" style="font-family:'Liberation Sans',sans-serif;font-weight:700;font-size:41px" fill="#fff" stroke="#fff" stroke-width="1.3" stroke-linejoin="round">8</text>
<text transform="translate(1155.62 780.75) scale(0.6460 1)" style="font-family:'Liberation Sans',sans-serif;font-weight:700;font-size:41px" fill="#fff" stroke="#fff" stroke-width="1.3" stroke-linejoin="round">9</text>
<text transform="translate(1156.83 851.42) scale(0.6460 1)" style="font-family:'Liberation Sans',sans-serif;font-weight:700;font-size:41px" fill="#fff" stroke="#fff" stroke-width="1.3" stroke-linejoin="round">10</text>
<rect x="1156.33" y="844.79" width="6.12" height="8.38" fill="#0b8c7a"/>
<rect x="1167.2" y="844.79" width="5.46" height="8.38" fill="#0b8c7a"/>
<text transform="translate(1294.83 212.87) scale(0.6460 1)" style="font-family:'Liberation Sans',sans-serif;font-weight:700;font-size:39.71px" fill="#fff" stroke="#fff" stroke-width="2.2" stroke-linejoin="round">1</text>
<rect x="1294.33" y="205.92" width="5.48" height="9.15" fill="#0f2239"/>
<rect x="1305.35" y="205.92" width="5.33" height="9.15" fill="#0f2239"/>
<text transform="translate(1295.12 284.35) scale(0.6460 1)" style="font-family:'Liberation Sans',sans-serif;font-weight:700;font-size:41px" fill="#fff" stroke="#fff" stroke-width="1.3" stroke-linejoin="round">2</text>
<text transform="translate(1295.39 356.55) scale(0.6460 1)" style="font-family:'Liberation Sans',sans-serif;font-weight:700;font-size:41px" fill="#fff" stroke="#fff" stroke-width="1.3" stroke-linejoin="round">3</text>
<text transform="translate(1312.91 350.4) scale(1.1605 1)" style="font-family:'Liberation Sans',sans-serif;font-weight:700;font-size:22.02px" fill="#fff" stroke="#fff" stroke-width="1.3">=</text>
<text transform="translate(1295.39 426.55) scale(0.6460 1)" style="font-family:'Liberation Sans',sans-serif;font-weight:700;font-size:41px" fill="#fff" stroke="#fff" stroke-width="1.3" stroke-linejoin="round">3</text>
<text transform="translate(1312.91 420.4) scale(1.1605 1)" style="font-family:'Liberation Sans',sans-serif;font-weight:700;font-size:22.02px" fill="#fff" stroke="#fff" stroke-width="1.3">=</text>
<text transform="translate(1295.26 497.62) scale(0.6460 1)" style="font-family:'Liberation Sans',sans-serif;font-weight:700;font-size:41px" fill="#fff" stroke="#fff" stroke-width="1.3" stroke-linejoin="round">5</text>
<text transform="translate(1313.05 491.9) scale(1.1605 1)" style="font-family:'Liberation Sans',sans-serif;font-weight:700;font-size:22.02px" fill="#fff" stroke="#fff" stroke-width="1.3">=</text>
<text transform="translate(1295.12 568.25) scale(0.6460 1)" style="font-family:'Liberation Sans',sans-serif;font-weight:700;font-size:41px" fill="#fff" stroke="#fff" stroke-width="1.3" stroke-linejoin="round">6</text>
<text transform="translate(1294.86 637.42) scale(0.6460 1)" style="font-family:'Liberation Sans',sans-serif;font-weight:700;font-size:41px" fill="#fff" stroke="#fff" stroke-width="1.3" stroke-linejoin="round">7</text>
<text transform="translate(1295.26 711.75) scale(0.6460 1)" style="font-family:'Liberation Sans',sans-serif;font-weight:700;font-size:41px" fill="#fff" stroke="#fff" stroke-width="1.3" stroke-linejoin="round">8</text>
<text transform="translate(1312.91 705.6) scale(1.1605 1)" style="font-family:'Liberation Sans',sans-serif;font-weight:700;font-size:22.02px" fill="#fff" stroke="#fff" stroke-width="1.3">=</text>
<text transform="translate(1295.26 780.75) scale(0.6460 1)" style="font-family:'Liberation Sans',sans-serif;font-weight:700;font-size:41px" fill="#fff" stroke="#fff" stroke-width="1.3" stroke-linejoin="round">8</text>
<text transform="translate(1312.91 774.6) scale(1.1605 1)" style="font-family:'Liberation Sans',sans-serif;font-weight:700;font-size:22.02px" fill="#fff" stroke="#fff" stroke-width="1.3">=</text>
<text transform="translate(1295.26 851.65) scale(0.6460 1)" style="font-family:'Liberation Sans',sans-serif;font-weight:700;font-size:41px" fill="#fff" stroke="#fff" stroke-width="1.3" stroke-linejoin="round">8</text>
<text transform="translate(1312.91 845.5) scale(1.1605 1)" style="font-family:'Liberation Sans',sans-serif;font-weight:700;font-size:22.02px" fill="#fff" stroke="#fff" stroke-width="1.3">=</text>
<text x="223.6" y="206" style="font-family:'Liberation Sans',sans-serif;font-weight:400;font-size:19.6px" fill="#fff" stroke="#fff" stroke-width="0.2" textLength="219.5" lengthAdjust="spacing">World-class biosecurity</text>
<text x="223.6" y="276.9" style="font-family:'Liberation Sans',sans-serif;font-weight:400;font-size:19.6px" fill="#fff" stroke="#fff" stroke-width="0.2" textLength="394.5" lengthAdjust="spacing">Act on results of gene editing discussions</text>
<text x="223.6" y="349" style="font-family:'Liberation Sans',sans-serif;font-weight:400;font-size:19.6px" fill="#fff" stroke="#fff" stroke-width="0.2" textLength="333.8" lengthAdjust="spacing">Sign high quality trade agreements</text>
<text x="223.6" y="418.1" style="font-family:'Liberation Sans',sans-serif;font-weight:400;font-size:19.6px" fill="#fff" stroke="#fff" stroke-width="0.2" textLength="345.5" lengthAdjust="spacing">Invest in resilient rural infrastructure</text>
<text x="223.6" y="491" style="font-family:'Liberation Sans',sans-serif;font-weight:400;font-size:19.6px" fill="#fff" stroke="#fff" stroke-width="0.2" textLength="244.8" lengthAdjust="spacing">Broadband equality for all</text>
<text x="223.6" y="560" style="font-family:'Liberation Sans',sans-serif;font-weight:400;font-size:19.6px" fill="#fff" stroke="#fff" stroke-width="0.2" textLength="409.1" lengthAdjust="spacing">Public/private mission science partnerships</text>
<text x="223.6" y="631.2" style="font-family:'Liberation Sans',sans-serif;font-weight:400;font-size:19.6px" fill="#fff" stroke="#fff" stroke-width="0.2" textLength="388.2" lengthAdjust="spacing">Build water storage to manage resources</text>
<text x="223.6" y="703.3" style="font-family:'Liberation Sans',sans-serif;font-weight:400;font-size:19.6px" fill="#fff" stroke="#fff" stroke-width="0.2" textLength="294.6" lengthAdjust="spacing">Develop resilient supply chains</text>
<text x="223.6" y="774.3" style="font-family:'Liberation Sans',sans-serif;font-weight:400;font-size:19.6px" fill="#fff" stroke="#fff" stroke-width="0.2" textLength="359.9" lengthAdjust="spacing">Maximising sustainable use of oceans</text>
<text x="223.6" y="845.3" style="font-family:'Liberation Sans',sans-serif;font-weight:400;font-size:19.6px" fill="#fff" stroke="#fff" stroke-width="0.2" textLength="285.1" lengthAdjust="spacing">Maintain immigration settings</text>
</svg>
</body></html>
